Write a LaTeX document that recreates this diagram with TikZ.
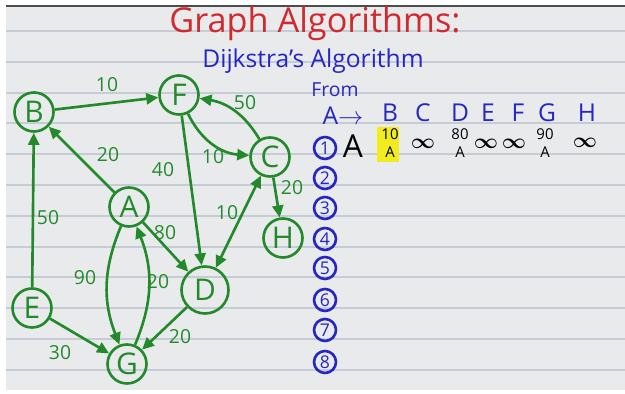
\documentclass[tikz,border=0pt]{standalone}
\usepackage{fontspec}
\setmainfont{Open Sans}
\usetikzlibrary{arrows.meta}
\definecolor{pen}{HTML}{238A2C}
\definecolor{ink}{HTML}{2626C4}
\definecolor{marker}{HTML}{D02A2E}
\definecolor{paper}{HTML}{E9EAEC}
\definecolor{ruling}{HTML}{C6CCD3}
\definecolor{hilite}{HTML}{F2EC1C}
\tikzset{
  every picture/.style={line width=1.3pt},
  >={Triangle[length=2.4mm, width=2.2mm]},
  vtx/.style={circle, draw=pen, text=pen, line width=1.5pt, minimum size=0.78cm, inner sep=0pt, font=\fontsize{17}{17}\selectfont},
  arr/.style={->, draw=pen, line width=1.5pt},
  wt/.style={text=pen, font=\fontsize{11}{11}\selectfont, inner sep=1pt},
  hd/.style={text=ink, font=\fontsize{14}{14}\selectfont, inner sep=0pt},
  cell/.style={text=black, font=\fontsize{8.5}{8.5}\selectfont, inner sep=0pt},
  inf/.style={text=black, font=\fontsize{12}{12}\selectfont\boldmath, inner sep=0pt},
  rowno/.style={circle, draw=ink, text=ink, line width=1.5pt, minimum size=0.44cm, inner sep=0pt, font=\fontsize{10}{10}\selectfont},
}
\begin{document}
\begin{tikzpicture}[x=0.02cm, y=0.02cm]
  \useasboundingbox (0,0) rectangle (625,-394);
  % ruled paper
  \fill[paper] (6,-6) rectangle (625,-390);
  \draw[gray!60!black, line width=1pt] (6,-6) -- (625,-6);
  \foreach \k in {0,...,11}
    \draw[ruling, line width=1.1pt] (6,{-31-30.8*\k}) -- (625,{-31-30.8*\k});

  \node[text=marker, font=\fontsize{19.5}{19.5}\selectfont] (title) at (315,-24) {Graph Algorithms:};
  \node[text=ink, font=\fontsize{14}{14}\selectfont] (sub) at (313,-61) {Dijkstra's Algorithm};

  % the graph
  \node[vtx] (B) at (34,-112) {B};
  \node[vtx] (F) at (179,-95) {F};
  \node[vtx] (C) at (270,-157) {C};
  \node[vtx] (H) at (283,-238) {H};
  \node[vtx] (A) at (129,-207) {A};
  \node[vtx, minimum size=0.94cm] (D) at (205,-290) {D};
  \node[vtx] (E) at (32,-308) {E};
  \node[vtx] (G) at (127,-364) {G};

  \draw[arr] (B) -- (F);
  \draw[arr] (A) -- (B);
  \draw[arr] (E) -- (B);
  \draw[arr] (F) -- (D);
  \draw[arr] (F) to[bend right=30] (C);
  \draw[arr] (C) to[bend right=25] (F);
  \draw[arr] (C) -- (H);
  \draw[arr, <->] (C) -- (D);
  \draw[arr] (A) -- (D);
  \draw[arr] (A) to[bend right=22] (G);
  \draw[arr] (G) to[bend right=22] (A);
  \draw[arr] (D) -- (G);
  \draw[arr] (E) -- (G);

  \node[wt] (wBF) at (107,-85) {10};
  \node[wt] (wAB) at (108,-155) {20};
  \node[wt] (wEB) at (48,-218) {50};
  \node[wt] (wFD) at (163,-170) {40};
  \node[wt] (wFC) at (213,-157) {10};
  \node[wt] (wCF) at (245,-103) {50};
  \node[wt] (wCH) at (292,-188) {20};
  \node[wt] (wCD) at (227,-213) {10};
  \node[wt] (wAD) at (165,-233) {80};
  \node[wt] (wAG) at (85,-278) {90};
  \node[wt] (wGA) at (158,-282) {20};
  \node[wt] (wDG) at (180,-337) {20};
  \node[wt] (wEG) at (60,-353) {30};

  % the table
  \node[text=ink, font=\fontsize{11}{11}\selectfont, inner sep=0pt] (from) at (335,-90) {From};
  \node[hd] (src) at (343,-116) {A$\rightarrow$};
  \foreach \v/\x in {B/390, C/423, D/460, E/488, F/518, G/547, H/587}
    \node[hd] (h\v) at (\x,-113) {\v};

  \fill[hilite] (377,-127) rectangle (399,-162);
  \node[rowno] (r1) at (325,-148) {1};
  \node[font=\fontsize{18}{18}\selectfont] (done) at (353,-146) {A};
  \node[cell] (dB) at (390,-134) {10};
  \node[cell] (pB) at (390,-152) {A};
  \node[inf] (dC) at (423,-144) {$\infty$};
  \node[cell] (dD) at (460,-134) {80};
  \node[cell] (pD) at (460,-152) {A};
  \node[inf] (dE) at (486,-144) {$\infty$};
  \node[inf] (dF) at (514,-144) {$\infty$};
  \node[cell] (dG) at (545,-134) {90};
  \node[cell] (pG) at (545,-152) {A};
  \node[inf] (dH) at (585,-143) {$\infty$};

  \foreach \n/\y in {2/178, 3/208, 4/239, 5/268, 6/300, 7/330, 8/362}
    \node[rowno] (r\n) at (325,-\y) {\n};
\end{tikzpicture}
\end{document}
